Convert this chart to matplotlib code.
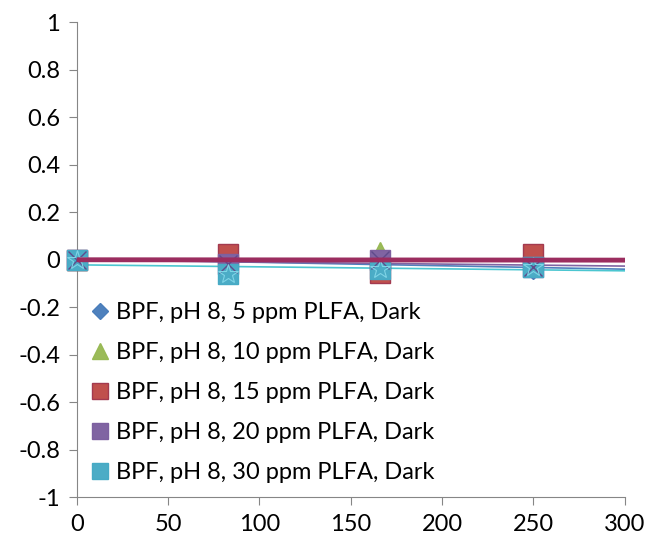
import numpy as np
import matplotlib.pyplot as plt

plt.rcParams['font.family'] = ['Lato', 'DejaVu Sans']

time = np.array([0, 83, 166, 250])
series = {
    "BPF, pH 8, 5 ppm PLFA, Dark": [0, -0.01, -0.01, -0.04],
    "BPF, pH 8, 10 ppm PLFA, Dark": [0, -0.01, 0.03, -0.02],
    "BPF, pH 8, 15 ppm PLFA, Dark": [0, 0.025, -0.055, 0.025],
    "BPF, pH 8, 20 ppm PLFA, Dark": [0, -0.02, 0.0, -0.03],
    "BPF, pH 8, 30 ppm PLFA, Dark": [0, -0.06, -0.04, -0.03],
}
yticks = [1, 0.8, 0.6, 0.4, 0.2, 0, -0.2, -0.4, -0.6, -0.8, -1]
ytick_labels = ["1", "0.8", "0.6", "0.4", "0.2", "0", "-0.2", "-0.4", "-0.6", "-0.8", "-1"]
xticks = [0, 50, 100, 150, 200, 250, 300]

markers = ["D", "^", "s", "s", "s"]
faces = ["#4F81BD", "#9BBB59", "#C0504D", "#8064A2", "#4BACC6"]
edges = ["#4A7EBB", "#98B954", "#A33A4F", "#7D60A0", "#46AAC5"]
sizes = [10, 14, 15, 15, 15]
trend_colors = ["#4F81BD", "#9BBB59", "#9B2D5F", "#8064A2", "#4BC6D0"]
trend_widths = [1.2, 1.2, 3.5, 1.2, 1.2]

fig = plt.figure(figsize=(6.46, 5.42), dpi=100)
ax = fig.add_axes([0.119, 0.083, 0.848, 0.876])

for i, (name, vals) in enumerate(series.items()):
    ax.plot(time, vals, linestyle="none", marker=markers[i], markersize=sizes[i],
            markerfacecolor=faces[i], markeredgecolor=edges[i], label=name,
            zorder=3, clip_on=False)
    if i == 3:
        ax.plot(time, vals, linestyle="none", marker="x", markersize=sizes[i] * 0.9,
                markeredgecolor="#5F4B8B", markeredgewidth=1, zorder=3.1, clip_on=False)
    if i == 4:
        ax.plot(time, vals, linestyle="none", marker="*", markersize=sizes[i],
                markerfacecolor="none", markeredgecolor="#7FD4E6", markeredgewidth=0.8,
                zorder=3.1, clip_on=False)

# linear trendlines, forecast to 300
xx = np.array([0, 300])
order = [0, 1, 3, 4, 2]
for i in order:
    vals = list(series.values())[i]
    k, b = np.polyfit(time, vals, 1)
    ax.plot(xx, k * xx + b, color=trend_colors[i], linewidth=trend_widths[i],
            zorder=4 if i == 2 else 2)

ax.set_xlim(0, 300)
ax.set_ylim(-1, 1)
ax.set_xticks(xticks)
ax.set_yticks(yticks)
ax.set_yticklabels(ytick_labels)
ax.tick_params(labelsize=17, color="#868686", length=6, direction="out", pad=6)
for s in ["top", "right"]:
    ax.spines[s].set_visible(False)
for s in ["left", "bottom"]:
    ax.spines[s].set_color("#868686")

leg = ax.legend(loc="upper left", bbox_to_anchor=(0.007, 0.43), frameon=False,
                fontsize=17, labelspacing=0.8, handletextpad=0.3, markerscale=0.8,
                handlelength=0.8, borderaxespad=0)

fig.savefig("out.png", dpi=100)
